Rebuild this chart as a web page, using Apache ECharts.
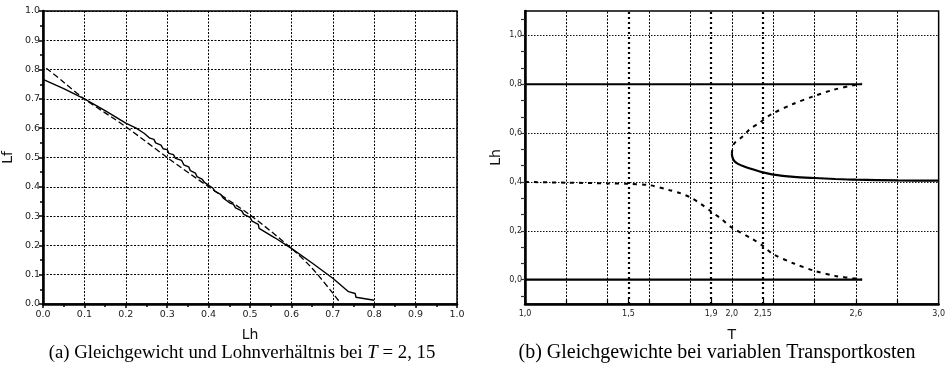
<!DOCTYPE html>
<html>
<head>
<meta charset="utf-8">
<script src="https://cdn.jsdelivr.net/npm/echarts@6/dist/echarts.min.js"></script>
<style>
html,body{margin:0;padding:0;background:#fff;}
#c{width:948px;height:371px;}
</style>
</head>
<body>
<div id="c"></div>
<script>
// ---- Left chart (a): Lf over Lh ----
const leftSolid = [[0,0.767],[0.05,0.735],[0.1,0.700],[0.15,0.66],[0.2,0.617],[0.225,0.600],[0.245,0.582],[0.258,0.566],[0.268,0.562],[0.272,0.55],[0.285,0.542],[0.29,0.53],[0.30,0.527],[0.304,0.514],[0.315,0.51],[0.32,0.497],[0.335,0.49],[0.34,0.475],[0.352,0.468],[0.356,0.455],[0.368,0.447],[0.372,0.435],[0.385,0.425],[0.39,0.415],[0.402,0.403],[0.41,0.396],[0.415,0.385],[0.43,0.373],[0.435,0.362],[0.452,0.344],[0.46,0.34],[0.465,0.328],[0.48,0.318],[0.485,0.306],[0.50,0.296],[0.505,0.283],[0.52,0.272],[0.522,0.258],[0.56,0.226],[0.6,0.19],[0.65,0.14],[0.7,0.088],[0.738,0.042],[0.754,0.036],[0.756,0.023],[0.8,0.013]];
const leftDashed = [[0.008,0.805],[0.05,0.757],[0.1,0.700],[0.2,0.605],[0.3,0.500],[0.4,0.400],[0.5,0.304],[0.6,0.190],[0.65,0.122],[0.7,0.037],[0.72,0.0]];

// ---- Right chart (b): Lh over T ----
const rightUpperSolid = [[1.0,0.8],[2.63,0.8]];
const rightZeroSolid = [[1.0,0.0],[2.63,0.0]];
const rightStableBranch = [[2.0,0.515],[2.004,0.498],[2.012,0.486],[2.03,0.474],[2.06,0.463],[2.1,0.452],[2.15,0.439],[2.2,0.43],[2.3,0.421],[2.4,0.416],[2.5,0.412],[2.6,0.409],[2.8,0.406],[3.0,0.405]];
const rightUpperDotted = [[2.0,0.515],[2.01,0.555],[2.055,0.588],[2.087,0.616],[2.135,0.643],[2.19,0.677],[2.296,0.719],[2.393,0.75],[2.49,0.777],[2.594,0.797],[2.627,0.803]];
const rightLowerDotted = [[1.0,0.40],[1.2,0.397],[1.4,0.394],[1.5,0.392],[1.6,0.387],[1.7,0.366],[1.75,0.354],[1.8,0.336],[1.85,0.31],[1.9,0.279],[1.95,0.248],[2.0,0.213],[2.1,0.166],[2.15,0.138],[2.2,0.104],[2.3,0.066],[2.4,0.036],[2.5,0.015],[2.6,0.004],[2.63,0.0]];
const markerT = [1.5, 1.9, 2.15];

const rightXLabels = [1.0,1.5,1.9,2.0,2.15,2.6,3.0];
const rightXTicks = [1.2,1.4,1.5,1.6,1.8,1.9,2.0,2.15,2.2,2.4,2.6,2.8];
const rightXGrid = [1.2,1.4,1.6,1.8,2.0,2.2,2.4,2.6,2.8];
const rightYLabels = [0,0.2,0.4,0.6,0.8,1.0];
const rightYTicks = [-0.0667,0,0.0667,0.1333,0.2,0.2667,0.3333,0.4,0.4667,0.5333,0.6,0.6667,0.7333,0.8,0.8667,0.9333,1.0,1.0667];
const rightYGrid = [0.2,0.4,0.6,1.0];

const captionA = '(a) Gleichgewicht und Lohnverhältnis bei {i|T} = 2, 15';
const captionB = '(b) Gleichgewichte bei variablen Transportkosten';

function comma(v){
  if (Math.abs(v-2.15) < 1e-9) return '2,15';
  return v.toFixed(1).replace('.', ',');
}

const FONT = 'DejaVu Sans';
const chart = echarts.init(document.getElementById('c'), null, {renderer:'canvas'});

const thinGridLeft = {show:true, lineStyle:{color:'#000', width:1, type:[2,1.5]}};
const thinGridRight = {show:true, lineStyle:{color:'#111', width:1, type:[1.5,1.5]}};

chart.setOption({
  animation:false,
  backgroundColor:'#fff',
  title:[
    {text:captionA, left:237, top:339, textAlign:'center',
     textStyle:{fontFamily:'Liberation Serif', fontSize:18.8, fontWeight:'normal', color:'#000',
       rich:{i:{fontFamily:'Liberation Serif', fontSize:18.8, fontStyle:'italic', color:'#000'}}}},
    {text:captionB, left:712, top:338, textAlign:'center',
     textStyle:{fontFamily:'Liberation Serif', fontSize:20, fontWeight:'normal', color:'#000'}}
  ],
  grid:[
    {left:43, top:11, width:414, height:293, show:true, borderColor:'#000', borderWidth:1.5},
    {left:525, top:11, width:414, height:293, show:true, borderColor:'#000', borderWidth:1.5}
  ],
  xAxis:[
    {gridIndex:0, type:'value', min:0, max:1, interval:0.1,
     name:'Lh', nameLocation:'middle', nameGap:24,
     nameTextStyle:{fontFamily:FONT, fontSize:14, color:'#111'},
     axisLine:{show:true, onZero:false, lineStyle:{color:'#000', width:2.5}},
     axisTick:{show:true, length:4, lineStyle:{color:'#000', width:1.5}},
     minorTick:{show:true, splitNumber:2, length:3, lineStyle:{color:'#000', width:1.5}},
     axisLabel:{fontFamily:FONT, fontSize:9.5, color:'#222', margin:6, formatter:v=>v.toFixed(1)},
     splitLine:thinGridLeft},
    {gridIndex:1, type:'value', min:1, max:3,
     name:'T', nameLocation:'middle', nameGap:24,
     nameTextStyle:{fontFamily:FONT, fontSize:14, color:'#111'},
     axisLine:{show:true, onZero:false, lineStyle:{color:'#000', width:2.5}},
     axisTick:{show:true, inside:true, length:5, customValues:rightXTicks, lineStyle:{color:'#000', width:1.2}},
     axisLabel:{fontFamily:FONT, fontSize:8, color:'#222', margin:6, customValues:rightXLabels, formatter:v=>comma(v)},
     splitLine:{show:false}}
  ],
  yAxis:[
    {gridIndex:0, type:'value', min:0, max:1, interval:0.1,
     name:'Lf', nameLocation:'middle', nameGap:28,
     nameTextStyle:{fontFamily:FONT, fontSize:14, color:'#111'},
     axisLine:{show:true, onZero:false, lineStyle:{color:'#000', width:2.5}},
     axisTick:{show:true, length:4, lineStyle:{color:'#000', width:1.5}},
     minorTick:{show:true, splitNumber:2, length:3, lineStyle:{color:'#000', width:1.5}},
     axisLabel:{fontFamily:FONT, fontSize:9.5, color:'#222', margin:3, formatter:v=>v.toFixed(1)},
     splitLine:thinGridLeft},
    {gridIndex:1, type:'value', min:-0.1, max:1.1,
     name:'Lh', nameLocation:'middle', nameGap:22,
     nameTextStyle:{fontFamily:FONT, fontSize:14, color:'#111'},
     axisLine:{show:true, onZero:false, lineStyle:{color:'#000', width:2.5}},
     axisTick:{show:true, length:4, customValues:rightYTicks, lineStyle:{color:'#333', width:1.2}},
     axisLabel:{fontFamily:FONT, fontSize:8, color:'#222', margin:3, customValues:rightYLabels, formatter:v=>comma(v)},
     splitLine:{show:false}},
    {gridIndex:1, type:'value', min:-0.1, max:1.1,
     axisLine:{show:false}, axisLabel:{show:false},
     axisTick:{show:false, customValues:rightYGrid},
     splitLine:thinGridRight}
  ],
  series:[
    {type:'line', xAxisIndex:0, yAxisIndex:0, data:leftSolid, showSymbol:false, symbol:'none',
     lineStyle:{color:'#000', width:1.4}},
    {type:'line', xAxisIndex:0, yAxisIndex:0, data:leftDashed, showSymbol:false, symbol:'none', smooth:0.3,
     lineStyle:{color:'#000', width:1.3, type:[6,3]}},
    {type:'line', xAxisIndex:1, yAxisIndex:1, data:rightZeroSolid, showSymbol:false, symbol:'none',
     lineStyle:{color:'#000', width:2.2},
     markLine:{silent:true, symbol:['none','none'], label:{show:false},
       lineStyle:{color:'#000', width:1, type:[2,1.5], opacity:1},
       data:rightXGrid.map(t=>({xAxis:t}))}},
    {type:'line', xAxisIndex:1, yAxisIndex:1, data:rightUpperSolid, showSymbol:false, symbol:'none',
     lineStyle:{color:'#000', width:2.2},
     markLine:{silent:true, symbol:['none','none'], label:{show:false},
       lineStyle:{color:'#000', width:2.2, type:[2,3]},
       data:markerT.map(t=>({xAxis:t}))}},
    {type:'line', xAxisIndex:1, yAxisIndex:1, data:rightStableBranch, showSymbol:false, symbol:'none', smooth:0.3,
     lineStyle:{color:'#000', width:2.2}},
    {type:'line', xAxisIndex:1, yAxisIndex:1, data:rightUpperDotted, showSymbol:false, symbol:'none', smooth:0.3,
     lineStyle:{color:'#000', width:2, type:[4,5]}},
    {type:'line', xAxisIndex:1, yAxisIndex:1, data:rightLowerDotted, showSymbol:false, symbol:'none', smooth:0.3,
     lineStyle:{color:'#000', width:2, type:[4,5]}}
  ]
});
</script>
</body>
</html>
